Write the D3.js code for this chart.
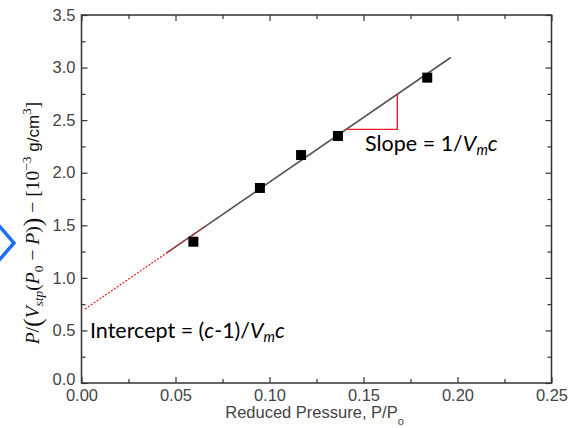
<!DOCTYPE html>
<html>
<head>
<meta charset="utf-8">
<script src="https://cdn.jsdelivr.net/npm/d3@7"></script>
<style>
  html, body { margin: 0; padding: 0; background: #fff; }
  svg { display: block; }
</style>
</head>
<body>
<svg id="chart" width="569" height="428"></svg>
<script>
// Measured adsorption points (reduced pressure vs BET transform)
const reducedPressure = [0.0595, 0.0949, 0.1168, 0.1364, 0.1839];
const betValue = [1.344, 1.855, 2.168, 2.349, 2.904];

// Linear fit of the BET plot
const fitSlope = 12.3;
const fitIntercept = 0.68;
const fitRange = [0.0453, 0.1964];      // drawn solid
const extrapRange = [0.0019, 0.0655];   // dashed extrapolation to the y-axis
const slopeRun = [0.1408, 0.168];       // slope triangle

const xTicks = [0, 0.05, 0.10, 0.15, 0.20, 0.25];
const xMinorTicks = [0.025, 0.075, 0.125, 0.175, 0.225];
const yTicks = [0, 0.5, 1.0, 1.5, 2.0, 2.5, 3.0, 3.5];
const yMinorTicks = [0.25, 0.75, 1.25, 1.75, 2.25, 2.75, 3.25];

const svg = d3.select("#chart");
const plotL = 81.5, plotR = 551.5, plotT = 15, plotB = 383;

const x = d3.scaleLinear().domain([0, 0.25]).range([plotL, plotR]);
const y = d3.scaleLinear().domain([0, 3.5]).range([plotB, plotT]);
const fit = v => fitIntercept + fitSlope * v;

const tickFont = "'Liberation Sans', Arial, sans-serif";
const ink = "#333";

function styleAxis(g, showLabels) {
  g.select(".domain").remove();
  g.selectAll(".tick line").attr("stroke", ink).attr("stroke-width", 1.2);
  g.selectAll(".tick text")
    .attr("fill", "#444")
    .style("font-family", tickFont)
    .style("font-size", "16.5px");
  if (!showLabels) g.selectAll(".tick text").remove();
}

// Major and minor ticks, inward on all four sides
const axes = [
  [d3.axisBottom(x), `translate(0,${plotB})`, xTicks, xMinorTicks, true],
  [d3.axisTop(x), `translate(0,${plotT})`, xTicks, xMinorTicks, false],
  [d3.axisLeft(y), `translate(${plotL},0)`, yTicks, yMinorTicks, true],
  [d3.axisRight(y), `translate(${plotR},0)`, yTicks, yMinorTicks, false]
];
axes.forEach(([axis, tr, major, minor, labels], i) => {
  const isX = i < 2;
  const fmt = isX ? d3.format(".2f") : d3.format(".1f");
  const g = svg.append("g").attr("transform", tr)
    .call(axis.tickValues(major).tickFormat(fmt).tickSizeInner(-6).tickSizeOuter(0).tickPadding(isX ? 6 : 6))
    .call(g => styleAxis(g, labels));
  // raise the y-axis zero label a little so it clears the x-axis zero label
  if (i === 2) g.selectAll(".tick text").filter(d => d === 0).attr("dy", "0.1em");
  svg.append("g").attr("transform", tr)
    .call(axis.tickValues(minor).tickFormat("").tickSizeInner(-4).tickSizeOuter(0))
    .call(g => styleAxis(g, false));
});

// Plot frame
svg.append("rect")
  .attr("x", plotL).attr("y", plotT)
  .attr("width", plotR - plotL).attr("height", plotB - plotT)
  .attr("fill", "none").attr("stroke", ink).attr("stroke-width", 1.5);

// Axis title
const xt = svg.append("text")
  .attr("x", (plotL + plotR) / 2 - 2).attr("y", 418)
  .attr("text-anchor", "middle")
  .attr("fill", "#444")
  .style("font-family", tickFont).style("font-size", "16.5px");
xt.append("tspan").text("Reduced Pressure, P/P");
xt.append("tspan").attr("dy", 7).style("font-size", "11px").text("o");

// Y-axis title (math expression)
const yt = svg.append("text")
  .attr("transform", "translate(39,223) rotate(-90)")
  .attr("text-anchor", "middle")
  .attr("fill", "#111")
  .style("font-family", "'Liberation Serif', 'DejaVu Serif', serif")
  .style("font-size", "19.5px");
yt.append("tspan").style("font-style", "italic").text("P");
yt.append("tspan").text("/");
yt.append("tspan").style("font-size", "26px").attr("dy", 2).text("(");
yt.append("tspan").attr("dy", -2).style("font-style", "italic").text("V");
yt.append("tspan").attr("dy", 4).style("font-size", "13.5px").style("font-style", "italic").text("stp");
yt.append("tspan").attr("dy", -4).text("(");
yt.append("tspan").style("font-style", "italic").text("P");
yt.append("tspan").attr("dy", 4).style("font-size", "13.5px").text("0");
yt.append("tspan").attr("dy", -4).text(" − ");
yt.append("tspan").style("font-style", "italic").text("P");
yt.append("tspan").text(")");
yt.append("tspan").style("font-size", "26px").attr("dy", 2).text(")");
yt.append("tspan").attr("dy", -2).text(" − [10");
yt.append("tspan").attr("dy", -8).style("font-size", "13.5px").text("−3");
yt.append("tspan").attr("dy", 8).style("font-family", tickFont).style("font-size", "17px").text(" g/cm");
yt.append("tspan").attr("dy", -8).style("font-size", "13.5px").text("3");
yt.append("tspan").attr("dy", 8).text("]");

// Fitted line
svg.append("line")
  .attr("x1", x(fitRange[0])).attr("y1", y(fit(fitRange[0])))
  .attr("x2", x(fitRange[1])).attr("y2", y(fit(fitRange[1])))
  .attr("stroke", "#555").attr("stroke-width", 1.6);

// Dashed extrapolation to the intercept
svg.append("line")
  .attr("x1", x(extrapRange[0])).attr("y1", y(fit(extrapRange[0])))
  .attr("x2", x(extrapRange[1])).attr("y2", y(fit(extrapRange[1])))
  .attr("stroke", "#ee1c24").attr("stroke-width", 1.2)
  .attr("stroke-dasharray", "2,1.5");

// Slope triangle
svg.append("path")
  .attr("d", d3.line()([
    [x(slopeRun[0]), y(fit(slopeRun[0]))],
    [x(slopeRun[1]), y(fit(slopeRun[0]))],
    [x(slopeRun[1]), y(fit(slopeRun[1]))]
  ]))
  .attr("fill", "none").attr("stroke", "#ee1c24").attr("stroke-width", 1.4);

// Data markers
const ms = 10;
svg.append("g").selectAll("rect")
  .data(reducedPressure.map((p, i) => [p, betValue[i]]))
  .join("rect")
  .attr("x", d => x(d[0]) - ms / 2).attr("y", d => y(d[1]) - ms / 2)
  .attr("width", ms).attr("height", ms)
  .attr("fill", "#000");

// Annotations
const noteFont = "Lato, 'Open Sans', sans-serif";
function note(xp, yp, parts) {
  const t = svg.append("text").attr("x", xp).attr("y", yp)
    .attr("fill", "#000")
    .style("font-family", noteFont).style("font-size", "21.5px");
  parts.forEach(([s, style]) => {
    const ts = t.append("tspan").text(s);
    if (style === "i") ts.style("font-style", "italic");
    if (style === "sub") ts.style("font-style", "italic").style("font-size", "14.5px").attr("dy", 4);
    if (style === "after") ts.style("font-style", "italic").attr("dy", -4);
  });
}
note(365, 151, [["Slope = 1/"], ["V", "i"], ["m", "sub"], ["c", "after"]]);
note(90, 338, [["Intercept = ("], ["c", "i"], ["-1)/"], ["V", "i"], ["m", "sub"], ["c", "after"]]);

// Navigation chevron at the left edge
svg.append("polyline")
  .attr("points", [[-6, 220], [14, 243], [-6, 266]].map(p => p.join(",")).join(" "))
  .attr("fill", "none").attr("stroke", "#1f6fff").attr("stroke-width", 3.5);
</script>
</body>
</html>
